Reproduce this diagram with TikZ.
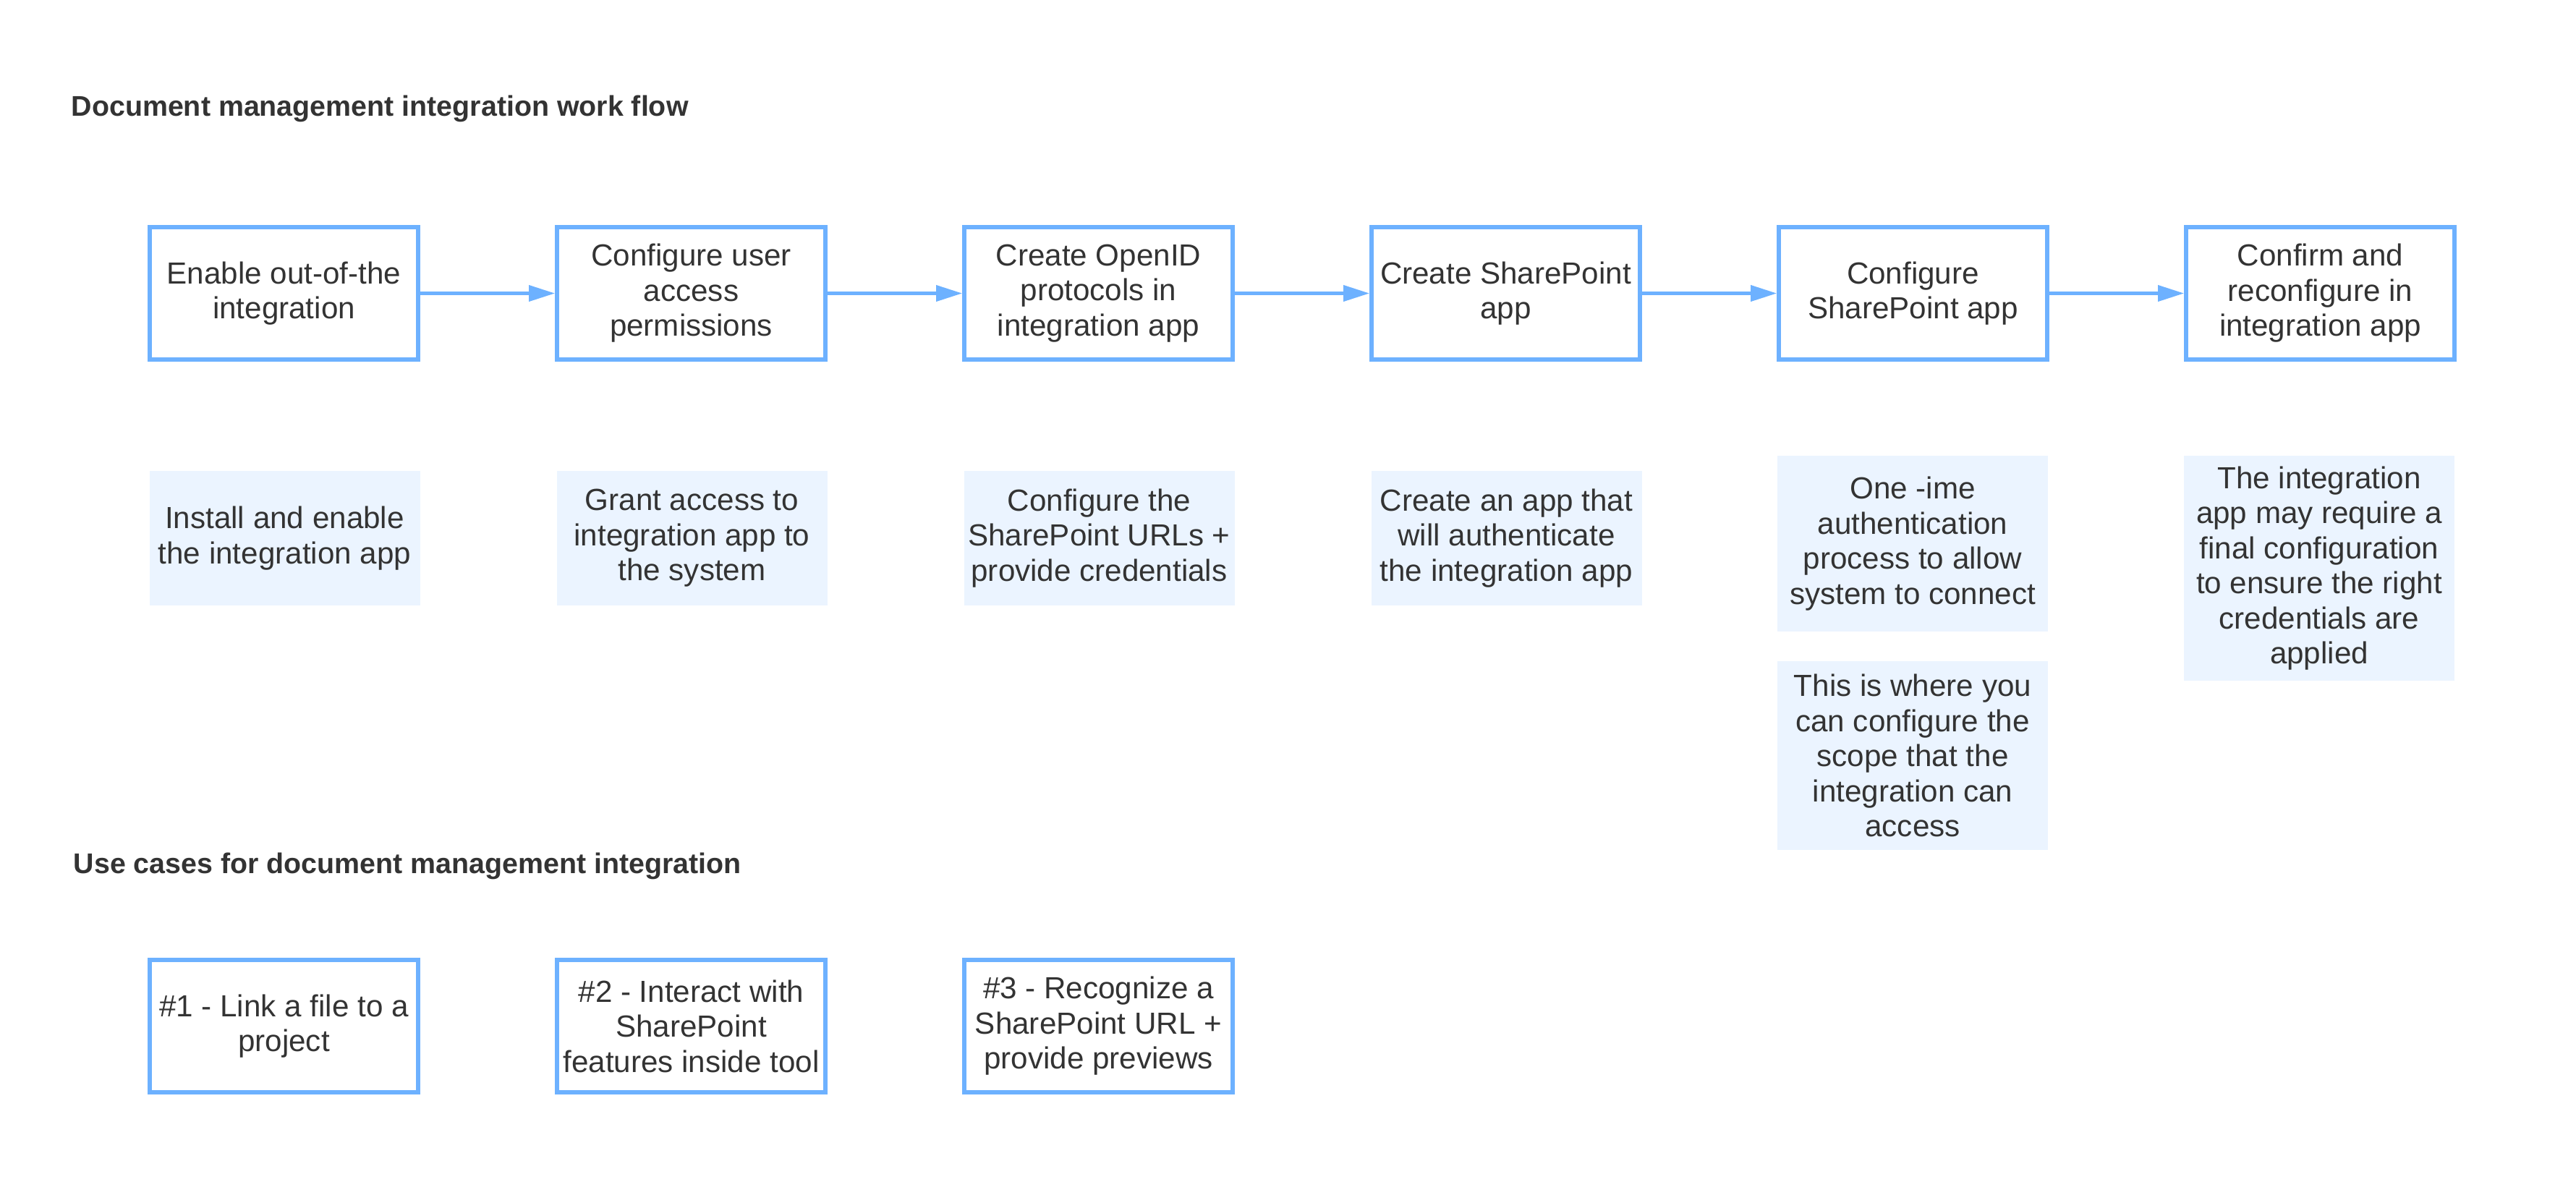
\documentclass[tikz,border=0pt]{standalone}
\usepackage{fontspec}
\setmainfont{Liberation Sans}
\usetikzlibrary{arrows.meta}
\definecolor{flowblue}{HTML}{6DB1FF}
\definecolor{notefill}{HTML}{EBF4FF}
\definecolor{inkgray}{HTML}{333333}
\tikzset{
    stepbox/.style={draw=flowblue, line width=1.7pt, minimum width=3.71cm, minimum height=1.83cm,
        inner sep=0pt, align=center, text=inkgray, font=\fontsize{12}{13.8}\selectfont},
    notebox/.style={fill=notefill, minimum width=3.74cm, inner sep=0pt, align=center,
        text=inkgray, font=\fontsize{12}{13.8}\selectfont},
    heading/.style={anchor=base west, inner sep=0pt, text=inkgray, font=\bfseries\fontsize{11.2}{13}\selectfont},
}
\begin{document}
\begin{tikzpicture}[>={Triangle[length=3.6mm,width=2.2mm]}]
\useasboundingbox (0,0) rectangle (35.61,-16.33);
% work flow
\node[heading] (title) at (0.98,-1.60) {Document management integration work flow};
\node[stepbox] (s1) at (3.925,-4.055) {Enable out-of-the\\integration};
\node[stepbox] (s2) at (9.555,-4.055) {Configure user\\access\\permissions};
\node[stepbox] (s3) at (15.185,-4.055) {Create OpenID\\protocols in\\integration app};
\node[stepbox] (s4) at (20.815,-4.055) {Create SharePoint\\app};
\node[stepbox] (s5) at (26.445,-4.055) {Configure\\SharePoint app};
\node[stepbox] (s6) at (32.075,-4.055) {Confirm and\\reconfigure in\\integration app};
\draw[->, flowblue, line width=1.15pt] (s1.east)--(s2.west);
\draw[->, flowblue, line width=1.15pt] (s2.east)--(s3.west);
\draw[->, flowblue, line width=1.15pt] (s3.east)--(s4.west);
\draw[->, flowblue, line width=1.15pt] (s4.east)--(s5.west);
\draw[->, flowblue, line width=1.15pt] (s5.east)--(s6.west);
% notes under the steps
\node[notebox, minimum height=1.86cm] (n1) at (3.935,-7.44) {Install and enable\\the integration app};
\node[notebox, minimum height=1.86cm] (n2) at (9.565,-7.44) {Grant access to\\integration app to\\the system};
\node[notebox, minimum height=1.86cm] (n3) at (15.195,-7.44) {Configure the\\SharePoint URLs +\\provide credentials};
\node[notebox, minimum height=1.86cm] (n4) at (20.825,-7.44) {Create an app that\\will authenticate\\the integration app};
\node[notebox, minimum height=2.43cm] (n5) at (26.44,-7.515) {One -ime\\authentication\\process to allow\\system to connect};
\node[notebox, minimum height=2.61cm] (n5b) at (26.44,-10.445) {This is where you\\can configure the\\scope that the\\integration can\\access};
\node[notebox, minimum height=3.11cm] (n6) at (32.06,-7.855) {The integration\\app may require a\\final configuration\\to ensure the right\\credentials are\\applied};
% use cases
\node[heading] (cases) at (1.01,-12.07) {Use cases for document management integration};
\node[stepbox] (u1) at (3.925,-14.185) {\#1 - Link a file to a\\project};
\node[stepbox] (u2) at (9.555,-14.185) {\#2 - Interact with\\SharePoint\\features inside tool};
\node[stepbox] (u3) at (15.185,-14.185) {\#3 - Recognize a\\SharePoint URL +\\provide previews};
\end{tikzpicture}
\end{document}
